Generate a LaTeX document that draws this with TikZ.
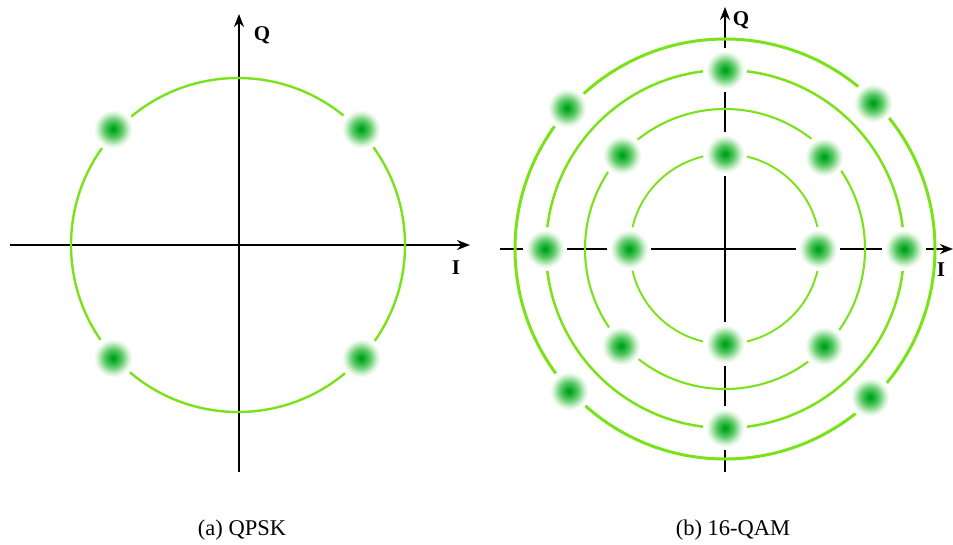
\documentclass[tikz,border=0pt]{standalone}
\usepackage{fontspec}
\setmainfont{Liberation Serif}
\usetikzlibrary{arrows.meta}
\definecolor{ringgreen}{RGB}{122,226,24}
\definecolor{dotgreen}{RGB}{0,165,30}
\definecolor{dotmid}{RGB}{90,200,100}
\definecolor{dotpale}{RGB}{215,243,215}
\pgfdeclareradialshading{dotshade}{\pgfpoint{0bp}{0bp}}{color(0bp)=(dotgreen); color(2bp)=(dotgreen); color(10bp)=(dotmid); color(18bp)=(dotpale); color(22bp)=(white); color(50bp)=(white)}
\begin{document}
\begin{tikzpicture}[x=1pt,y=-1pt,
  axis/.style={line width=2pt,black,-{Stealth[length=13pt,width=10pt]}},
  ring/.style={draw=ringgreen,line width=#1},
  ring/.default=2.4pt,
  dot/.style={circle,minimum size=44pt,inner sep=0pt,draw=none,shade,shading=dotshade},
  axlabel/.style={font=\fontsize{21}{24}\selectfont\bfseries,inner sep=0pt},
  captext/.style={font=\fontsize{22.5}{26}\selectfont,inner sep=0pt}]
\useasboundingbox (0,0) rectangle (953,545);
% ---------- (a) QPSK ----------
\coordinate (lc) at (238,245);
\coordinate (lxs) at (10,245);
\coordinate (lxe) at (470,245);
\coordinate (lys) at (239,472);
\coordinate (lye) at (239,14);
\draw[axis] (lxs) -- (lxe);
\draw[axis] (lys) -- (lye);
\draw[ring] (lc) circle[radius=167];
\node[dot] (a1) at (113,129) {};
\node[dot] (a2) at (361,129) {};
\node[dot] (a3) at (113,358) {};
\node[dot] (a4) at (361,358) {};
\node[axlabel] (lq) at (262,35) {Q};
\node[axlabel] (li) at (456,268) {I};
\node[captext] (ca) at (242,530) {(a) QPSK};
% ---------- (b) 16-QAM ----------
\coordinate (rc) at (725,249);
\coordinate (rxs) at (500,249);
\coordinate (rxe) at (953,249);
\coordinate (rys) at (725,472);
\coordinate (rye) at (725,7);
\draw[axis] (rxs) -- (rxe);
\draw[axis] (rys) -- (rye);
\draw[ring=1.9pt] (rc) circle[radius=95];
\draw[ring=2.1pt] (rc) circle[radius=140];
\draw[ring=2.5pt] (rc) circle[radius=179];
\draw[ring=3pt] (rc) circle[radius=210];
% inner ring
\node[dot] (b1) at (725,154) {};
\node[dot] (b2) at (629,249) {};
\node[dot] (b3) at (818,249) {};
\node[dot] (b4) at (725,344) {};
% second ring
\node[dot] (b5) at (622,155) {};
\node[dot] (b6) at (824,157) {};
\node[dot] (b7) at (621,346) {};
\node[dot] (b8) at (824,346) {};
% third ring
\node[dot] (b9) at (725,70) {};
\node[dot] (b10) at (545,249) {};
\node[dot] (b11) at (904,249) {};
\node[dot] (b12) at (725,428) {};
% outer ring
\node[dot] (b13) at (567,108) {};
\node[dot] (b14) at (873,103) {};
\node[dot] (b15) at (569,391) {};
\node[dot] (b16) at (870,397) {};
\node[axlabel] (rq) at (741,20) {Q};
\node[axlabel] (ri) at (941,270) {I};
\node[captext] (cb) at (733,530) {(b) 16-QAM};
\end{tikzpicture}
\end{document}
